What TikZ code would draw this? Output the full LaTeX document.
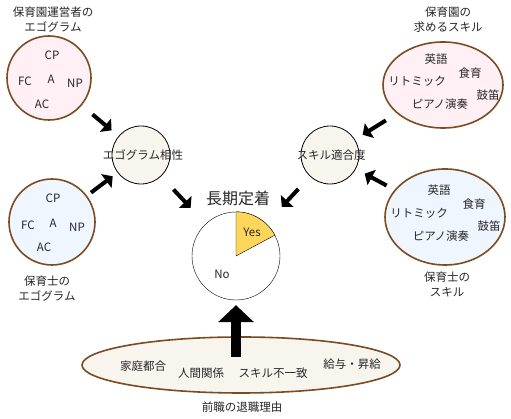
\documentclass[tikz,border=0pt]{standalone}
\usepackage{fontspec}
\setmainfont{Noto Sans CJK JP}
\usepackage{tikz}
\usetikzlibrary{shapes.geometric, arrows.meta}
\definecolor{rim}{HTML}{7B4B22}
\definecolor{pinkfill}{HTML}{FFF0F5}
\definecolor{bluefill}{HTML}{F0F6FF}
\definecolor{beigefill}{HTML}{F8F5EE}
\definecolor{yesfill}{HTML}{FFD65C}
\tikzset{
    x=1pt, y=1pt, % one unit is one pixel of the sketch
    every node/.style={font=\fontsize{11.5}{15}\selectfont, inner sep=0pt, text=black!85}, % small text everywhere
    ring/.style={circle, draw=rim, line width=1.6pt}, % the brown ego circles
    oval/.style={ellipse, draw=rim, line width=1.6pt}, % the brown skill ellipses
    hub/.style={circle, draw, thick, fill=beigefill, minimum size=58pt}, % the two middle circles
    push/.style={line width=4pt, -{Triangle[length=8pt, width=17pt]}}, % the small black arrows
    lift/.style={line width=10pt, -{Triangle[length=17pt, width=35pt]}}, % the big arrow from below
}
\begin{document}
\begin{tikzpicture}
    \useasboundingbox (0,0) rectangle (511,419);
    % ego circles
    \node[ring, fill=pinkfill, minimum size=84pt] (bossego) at (49,341) {};
    \node[ring, fill=bluefill, minimum size=86pt] (staffego) at (52,197) {};
    \node[align=center] (bosstitle) at (53,399.5) {保育園運営者の\\エゴグラム};
    \node[align=center] (stafftitle) at (47,130.5) {保育士の\\エゴグラム};
    \node at (52,364) {CP}; \node at (25,338) {FC}; \node at (51,340) {A};
    \node at (75,336) {NP}; \node at (42,315) {AC};
    \node at (53,221) {CP}; \node at (28,194) {FC}; \node at (53,196) {A};
    \node at (77,192) {NP}; \node at (44,172) {AC};
    % skill ellipses
    \node[oval, fill=pinkfill, minimum width=120pt, minimum height=86pt] (wantskill) at (443,334) {};
    \node[oval, fill=bluefill, minimum width=120pt, minimum height=96pt] (hasskill) at (445,202) {};
    \node[align=center] (wanttitle) at (448,399.5) {保育園の\\求めるスキル};
    \node[align=center] (hastitle) at (447,134.5) {保育士の\\スキル};
    \node at (436,360) {英語}; \node at (470,346) {食育}; \node at (417,338) {リトミック};
    \node at (488,324) {鼓笛}; \node at (440,315) {ピアノ演奏};
    \node at (439,229) {英語}; \node at (474,215) {食育}; \node at (419,206) {リトミック};
    \node at (489,193) {鼓笛}; \node at (441,183) {ピアノ演奏};
    % middle circles
    \node[hub] (match) at (141,264) {};
    \node[hub] (fit) at (330,264) {};
    \node at (143,264) {エゴグラム相性};
    \node at (331,264) {スキル適合度};
    % pie
    \node[font=\fontsize{16}{18}\selectfont] (stay) at (238,221) {長期定着};
    \node[circle, draw, fill=white, minimum size=88pt] (pie) at (236,163) {};
    \draw[fill=yesfill] (pie.center) -- (pie.north) arc[start angle=90, end angle=28, radius=44pt] -- cycle;
    \node at (252,187) {Yes};
    \node at (222,145) {No};
    % reasons
    \node[oval, fill=beigefill, minimum width=318pt, minimum height=56pt] (reasons) at (241,54) {};
    \node at (143,53) {家庭都合}; \node at (201,46) {人間関係};
    \node at (273,46) {スキル不一致}; \node at (352,55) {給与・昇給};
    \node (reasontitle) at (242,12) {前職の退職理由};
    % arrows
    \draw[push, shorten <=14pt, shorten >=9pt] (bossego) -- (match);
    \draw[push, shorten <=5pt, shorten >=6pt] (staffego) -- (match);
    \draw[push, shorten <=18pt, shorten >=22pt] (match) -- (pie);
    \draw[push, shorten <=17pt, shorten >=23pt] (fit) -- (pie);
    \draw[push, shorten <=13pt, shorten >=9pt] (wantskill) -- (fit);
    \draw[push, shorten <=9pt, shorten >=10pt] (hasskill) -- (fit);
    \draw[lift, shorten <=-21pt, shorten >=5pt] (reasons.north -| pie.south) -- (pie.south);
\end{tikzpicture}
\end{document}
